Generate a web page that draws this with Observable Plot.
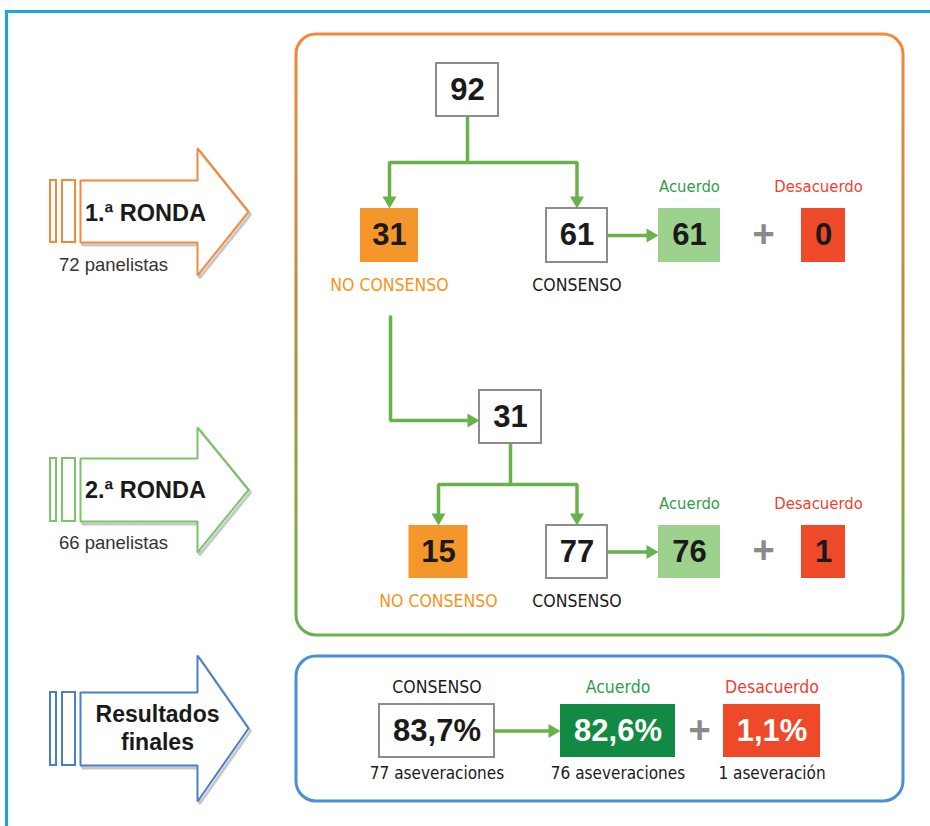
<!DOCTYPE html>
<html><head><meta charset="utf-8">
<script src="https://cdn.jsdelivr.net/npm/d3@7"></script>
<script src="https://cdn.jsdelivr.net/npm/@observablehq/plot@0.6"></script>
<style>body{margin:0;background:#fff;} svg{display:block;}</style>
</head><body><div id="chart"></div>
<script>
// ---------- DATA ----------
const roundTitles = ["1.ª RONDA", "2.ª RONDA"];
const roundPanelists = ["72 panelistas", "66 panelistas"];
const roundTotals = [92, 31];
const roundNoConsensus = [31, 15];
const roundConsensus = [61, 77];
const roundAgreement = [61, 76];
const roundDisagreement = [0, 1];
const nodeLabels = ["NO CONSENSO", "CONSENSO", "Acuerdo", "Desacuerdo"];
const finalTitle = ["Resultados", "finales"];
const finalLabels = ["CONSENSO", "Acuerdo", "Desacuerdo"];
const finalPercents = ["83,7%", "82,6%", "1,1%"];
const finalCounts = ["77 aseveraciones", "76 aseveraciones", "1 aseveración"];

// ---------- STYLE ----------
const C = {
  frame: "#1aa7e0", green: "#69b24b", orange: "#f08a3c", arrow2: "#7cc46a", blue: "#4a7fc8",
  boxBlue: "#4a90d4", noCons: "#f5962a", agreeLight: "#9dd18e", red: "#ee4a2a", darkGreen: "#128a44",
  grayStroke: "#8c8c8c", text: "#1a1a1a", labelOrange: "#f7941d", labelGreen: "#2e9e48", labelRed: "#ef4130"
};

// ---------- LAYOUT ----------
const rows = [
  {topCx: 467, topW: 62, topY1: 63, topY2: 116, branchY: 162, y1: 208, y2: 262, leftCx: 389, leftW: 58},
  {topCx: 510, topW: 62, topY1: 390, topY2: 443, branchY: 484, y1: 525, y2: 578, leftCx: 438, leftW: 59}
];
const consX = [546, 607], agreeX = [658, 720], redX = [801, 845], plusX = 763;
const bigArrows = [
  {stroke: C.orange, top: 180, bottom: 242, headTop: 148, headBottom: 275},
  {stroke: C.arrow2, top: 458, bottom: 521, headTop: 427, headBottom: 552},
  {stroke: C.blue, top: 692, bottom: 765, headTop: 655, headBottom: 801}
];

const boxes = [], nums = [], labels = [], lines = [], heads = [], notches = [], outline = [];
let lid = 0;
function polyline(pts) { const id = lid++; pts.forEach(([x, y]) => lines.push({id, x, y})); }
function head(x, y, dir) {
  const id = lid++, L = 12, Wd = 7;
  const p = dir === "down" ? [[x - Wd, y - L], [x + Wd, y - L], [x, y]] : [[x - L, y - Wd], [x - L, y + Wd], [x, y]];
  p.forEach(([px, py]) => heads.push({id, x: px, y: py}));
}

rows.forEach((r, i) => {
  const cy = (r.y1 + r.y2) / 2;
  const consCx = (consX[0] + consX[1]) / 2;
  boxes.push({x1: r.topCx - r.topW / 2, x2: r.topCx + r.topW / 2, y1: r.topY1, y2: r.topY2, fill: "white", stroke: C.grayStroke});
  nums.push({x: r.topCx, y: (r.topY1 + r.topY2) / 2, text: String(roundTotals[i]), fill: C.text, size: 31});
  boxes.push({x1: r.leftCx - r.leftW / 2, x2: r.leftCx + r.leftW / 2, y1: r.y1, y2: r.y2, fill: C.noCons, stroke: "none"});
  boxes.push({x1: consX[0], x2: consX[1], y1: r.y1, y2: r.y2, fill: "white", stroke: C.grayStroke});
  boxes.push({x1: agreeX[0], x2: agreeX[1], y1: r.y1, y2: r.y2, fill: C.agreeLight, stroke: "none"});
  boxes.push({x1: redX[0], x2: redX[1], y1: r.y1, y2: r.y2, fill: C.red, stroke: "none"});
  nums.push({x: r.leftCx, y: cy, text: String(roundNoConsensus[i]), fill: C.text, size: 31});
  nums.push({x: consCx, y: cy, text: String(roundConsensus[i]), fill: C.text, size: 31});
  nums.push({x: (agreeX[0] + agreeX[1]) / 2, y: cy, text: String(roundAgreement[i]), fill: C.text, size: 31});
  nums.push({x: (redX[0] + redX[1]) / 2, y: cy, text: String(roundDisagreement[i]), fill: C.text, size: 31});
  nums.push({x: plusX, y: cy - 1, text: "+", fill: "#8a8a8a", size: 38});
  labels.push({x: r.leftCx, y: r.y2 + 23, text: nodeLabels[0], fill: C.labelOrange, size: 17.5});
  labels.push({x: consCx, y: r.y2 + 23, text: nodeLabels[1], fill: C.text, size: 17.5});
  labels.push({x: (agreeX[0] + agreeX[1]) / 2, y: r.y1 - 22, text: nodeLabels[2], fill: C.labelGreen, size: 16.5});
  labels.push({x: 818, y: r.y1 - 22, text: nodeLabels[3], fill: C.labelRed, size: 16.5});
  polyline([[r.topCx, r.topY2], [r.topCx, r.branchY]]);
  polyline([[r.leftCx, r.y1 - 10], [r.leftCx, r.branchY], [consCx, r.branchY], [consCx, r.y1 - 10]]);
  head(r.leftCx, r.y1, "down");
  head(consCx, r.y1, "down");
  polyline([[consX[1], cy], [agreeX[0] - 10, cy]]);
  head(agreeX[0], cy, "right");
});
polyline([[rows[0].leftCx + 1, 315], [rows[0].leftCx + 1, 420], [rows[1].topCx - rows[1].topW / 2 - 10, 420]]);
head(rows[1].topCx - rows[1].topW / 2, 420, "right");

const fY1 = 704, fY2 = 757, fCy = (fY1 + fY2) / 2;
const fCols = [[379, 494], [560, 675], [723, 820]];
const fFill = ["white", C.darkGreen, C.red], fStroke = [C.grayStroke, "none", "none"];
const fText = [C.text, "white", "white"], fLab = [C.text, C.labelGreen, C.labelRed];
fCols.forEach(([a, b], i) => {
  boxes.push({x1: a, x2: b, y1: fY1, y2: fY2, fill: fFill[i], stroke: fStroke[i]});
  nums.push({x: (a + b) / 2, y: fCy, text: finalPercents[i], fill: fText[i], size: 31});
  labels.push({x: (a + b) / 2, y: 687, text: finalLabels[i], fill: fLab[i], size: 17.5});
  labels.push({x: (a + b) / 2, y: 773, text: finalCounts[i], fill: C.text, size: 17});
});
polyline([[fCols[0][1], fCy], [fCols[1][0] - 10, fCy]]);
head(fCols[1][0], fCy, "right");
nums.push({x: 699, y: fCy, text: "+", fill: "#8a8a8a", size: 38});

bigArrows.forEach((a, i) => {
  const mid = (a.headTop + a.headBottom) / 2;
  notches.push({x1: 50, x2: 56, y1: a.top, y2: a.bottom, stroke: a.stroke});
  notches.push({x1: 62, x2: 75, y1: a.top, y2: a.bottom, stroke: a.stroke});
  [[80, a.top], [197, a.top], [197, a.headTop], [248, mid], [197, a.headBottom], [197, a.bottom], [80, a.bottom], [80, a.top]]
    .forEach(([x, y]) => outline.push({id: "a" + i, x, y, stroke: a.stroke}));
});
const arrowText = [
  {x: 145, y: 213, text: roundTitles[0], size: 23.5},
  {x: 145, y: 490, text: roundTitles[1], size: 23.5},
  {x: 157, y: 714, text: finalTitle[0], size: 23},
  {x: 157, y: 742, text: finalTitle[1], size: 23}
];
const panelText = [
  {x: 113, y: 265, text: roundPanelists[0]},
  {x: 113, y: 543, text: roundPanelists[1]}
];

const font = "'Liberation Sans', Arial, sans-serif";
const narrow = "'Liberation Sans Narrow', 'DejaVu Sans Condensed', 'Liberation Sans', sans-serif";

const svg = Plot.plot({
  width: 930, height: 826, margin: 0,
  x: {domain: [0, 930], range: [0, 930], axis: null},
  y: {domain: [0, 826], range: [0, 826], axis: null},
  color: {type: "identity"},
  style: {background: "white", fontFamily: font},
  marks: [
    Plot.ruleY([11], {x1: 5, x2: 930, stroke: C.frame, strokeWidth: 3}),
    Plot.ruleX([6], {y1: 10, y2: 826, stroke: C.frame, strokeWidth: 3}),
    Plot.rect([0], {x1: 296, x2: 903, y1: 34, y2: 635, rx: 20, fill: "white", stroke: "url(#roundGrad)", strokeWidth: 3}),
    Plot.rect([0], {x1: 296, x2: 903, y1: 656, y2: 801, rx: 20, fill: "white", stroke: C.boxBlue, strokeWidth: 3}),
    Plot.line(outline, {x: "x", y: "y", z: "id", stroke: "#c8c8c8", strokeWidth: 3, dx: 2, dy: 2.5, strokeLinejoin: "miter", curve: "linear"}),
    Plot.line(outline, {x: "x", y: "y", z: "id", stroke: "stroke", fill: "white", strokeWidth: 2, strokeLinejoin: "miter", curve: "linear"}),
    Plot.rect(notches, {x1: "x1", x2: "x2", y1: "y1", y2: "y2", stroke: "stroke", fill: "white", strokeWidth: 2, ariaLabel: "bigarrow"}),
    Plot.text(arrowText, {x: "x", y: "y", text: "text", fontSize: d => d.size, fontWeight: "bold", fill: C.text}),
    Plot.text(panelText, {x: "x", y: "y", text: "text", fontSize: 18.5, fill: "#333"}),
    Plot.line(lines, {x: "x", y: "y", z: "id", stroke: C.green, strokeWidth: 3.5, strokeLinejoin: "miter", strokeLinecap: "butt", curve: "linear"}),
    Plot.line(heads, {x: "x", y: "y", z: "id", fill: C.green, stroke: "none", curve: "linear"}),
    Plot.rect(boxes, {x1: "x1", x2: "x2", y1: "y1", y2: "y2", fill: "fill", stroke: "stroke", strokeWidth: 2, ariaLabel: "box"}),
    Plot.text(nums, {x: "x", y: "y", text: "text", fill: "fill", fontSize: d => d.size, fontWeight: "bold"}),
    Plot.text(labels, {x: "x", y: "y", text: "text", fill: "fill", fontSize: d => d.size, fontFamily: narrow})
  ]
});

const defs = d3.select(svg).insert("defs", ":first-child");
const g = defs.append("linearGradient").attr("id", "roundGrad").attr("x1", 0).attr("y1", 0).attr("x2", 0).attr("y2", 1);
g.append("stop").attr("offset", "0%").attr("stop-color", C.orange);
g.append("stop").attr("offset", "45%").attr("stop-color", "#b88f3a");
g.append("stop").attr("offset", "100%").attr("stop-color", C.green);
d3.select(svg).selectAll("g[aria-label=box] rect").style("filter", "drop-shadow(1.5px 1.5px 1.5px rgba(0,0,0,0.3))");
d3.select(svg).selectAll("g[aria-label=bigarrow] rect").style("filter", "drop-shadow(2px 3px 2px rgba(0,0,0,0.3))");
document.getElementById("chart").append(svg);
</script>
</body></html>
